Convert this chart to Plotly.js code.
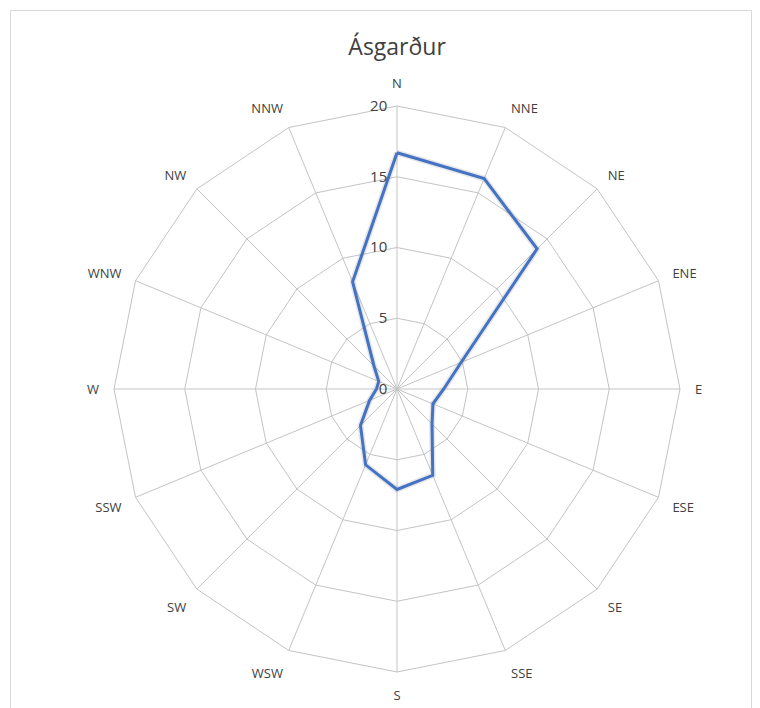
<!DOCTYPE html>
<html>
<head>
<meta charset="utf-8">
<script src="https://cdn.plot.ly/plotly-3.0.1.min.js"></script>
<style>
html,body{margin:0;padding:0;background:#fff;}
#frame{position:absolute;left:10px;top:10px;width:742px;height:700px;border:1px solid #d9d9d9;box-sizing:border-box;}
#chart{position:absolute;left:0;top:0;width:760px;height:708px;}
</style>
</head>
<body>
<div id="frame"></div>
<div id="chart"></div>
<script>
const directions = ["N","NNE","NE","ENE","E","ESE","SE","SSE","S","WSW","SW","SSW","W","WNW","NW","NNW"];
const frequency = [16.7, 16.1, 14.0, 4.9, 3.3, 2.75, 3.5, 6.6, 7.1, 5.8, 3.65, 2.1, 1.45, 1.4, 2.3, 8.2];
const radialTicks = [0, 5, 10, 15, 20];
const chartTitle = "Ásgarður";

const closedTheta = directions.concat([directions[0]]);
const closedR = frequency.concat([frequency[0]]);

const traces = [
  {
    type: "scatterpolar",
    r: closedR,
    theta: closedTheta,
    mode: "lines",
    line: {color: "rgba(120,120,120,0.18)", width: 6},
    hoverinfo: "skip",
    showlegend: false
  },
  {
    type: "scatterpolar",
    r: closedR,
    theta: closedTheta,
    mode: "lines",
    line: {color: "#4472C4", width: 3},
    showlegend: false
  }
];

const layout = {
  width: 760,
  height: 708,
  margin: {l: 0, r: 0, t: 0, b: 0},
  paper_bgcolor: "rgba(0,0,0,0)",
  plot_bgcolor: "rgba(0,0,0,0)",
  showlegend: false,
  title: {
    text: chartTitle,
    x: 0.5225, xanchor: "center",
    y: 1 - 47/708, yanchor: "middle",
    font: {family: "Open Sans, Liberation Sans, sans-serif", size: 23, color: "#404040"}
  },
  font: {family: "Open Sans, Liberation Sans, sans-serif", size: 13, color: "#404040"},
  polar: {
    domain: {x: [114/760, 680/760], y: [36/708, 602/708]},
    gridshape: "linear",
    bgcolor: "rgba(0,0,0,0)",
    angularaxis: {
      type: "category",
      categoryarray: directions,
      direction: "clockwise",
      rotation: 90,
      showline: true,
      linecolor: "#c4c4c4",
      linewidth: 1,
      gridcolor: "#c4c4c4",
      gridwidth: 1,
      ticks: "outside",
      ticklen: 12,
      tickcolor: "rgba(0,0,0,0)",
      tickfont: {size: 13, color: "#404040"}
    },
    radialaxis: {
      range: [0, 20],
      tickvals: radialTicks,
      ticktext: radialTicks.map(String),
      angle: 90,
      tickangle: 90,
      side: "counterclockwise",
      showline: false,
      gridcolor: "#c4c4c4",
      gridwidth: 1,
      ticks: "outside",
      ticklen: 4,
      tickcolor: "rgba(0,0,0,0)",
      tickfont: {size: 15, color: "#404040"}
    }
  }
};

Plotly.newPlot("chart", traces, layout, {displayModeBar: false, staticPlot: true});
</script>
</body>
</html>
